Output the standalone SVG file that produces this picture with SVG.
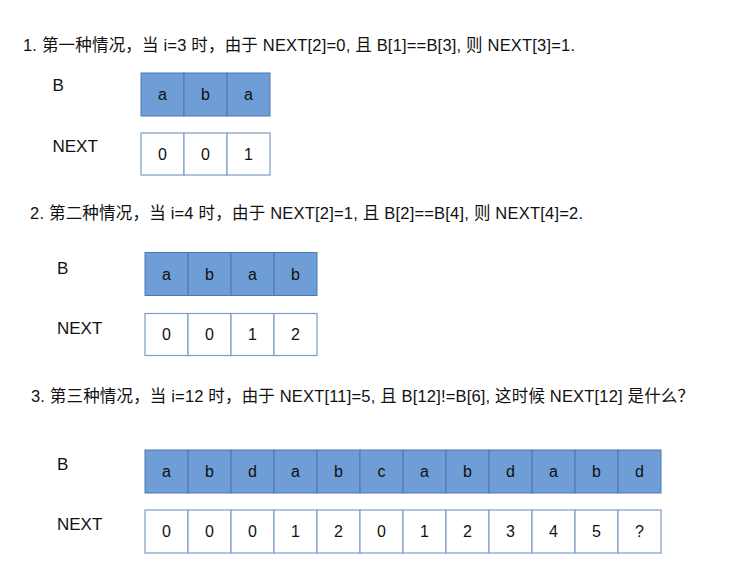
<svg xmlns="http://www.w3.org/2000/svg" width="750" height="579" viewBox="0 0 750 579">
<style>
text{font-family:"Liberation Sans","Noto Sans CJK SC",sans-serif;fill:#111;}
.h{font-size:16.5px;}
.h tspan.c{font-size:15.5px;}
.lbl{font-size:17px;}
.cv{font-size:16px;text-anchor:middle;}
.bc{fill:#6f9dd5;stroke:#4c79b2;stroke-width:1;}
.nc{fill:#fff;stroke:#7d9cc8;stroke-width:1.2;}
</style>
<rect width="750" height="579" fill="#fff"/>
<g id="case1">
<text class="h" x="23" y="50.5" textLength="552" lengthAdjust="spacing">1. 第一种情况，当 i=3 时，由于 NEXT[2]=0, 且 B[1]==B[3], 则 NEXT[3]=1.</text>
<g id="c1-B">
<text class="lbl" x="52.5" y="91">B</text>
<rect class="bc" x="141" y="73" width="43" height="43"/>
<rect class="bc" x="184" y="73" width="43" height="43"/>
<rect class="bc" x="227" y="73" width="43" height="43"/>
<text class="cv" x="162.5" y="100">a</text>
<text class="cv" x="205.5" y="100">b</text>
<text class="cv" x="248.5" y="100">a</text>
</g>
<g id="c1-NEXT">
<text class="lbl" x="52.5" y="152">NEXT</text>
<rect class="nc" x="141" y="133" width="43" height="42"/>
<rect class="nc" x="184" y="133" width="43" height="42"/>
<rect class="nc" x="227" y="133" width="43" height="42"/>
<text class="cv" x="162.5" y="159.5">0</text>
<text class="cv" x="205.5" y="159.5">0</text>
<text class="cv" x="248.5" y="159.5">1</text>
</g>
</g>
<g id="case2">
<text class="h" x="30" y="218.5" textLength="553" lengthAdjust="spacing">2. 第二种情况，当 i=4 时，由于 NEXT[2]=1, 且 B[2]==B[4], 则 NEXT[4]=2.</text>
<g id="c2-B">
<text class="lbl" x="57" y="274">B</text>
<rect class="bc" x="145" y="252.5" width="43" height="43"/>
<rect class="bc" x="188" y="252.5" width="43" height="43"/>
<rect class="bc" x="231" y="252.5" width="43" height="43"/>
<rect class="bc" x="274" y="252.5" width="43" height="43"/>
<text class="cv" x="166.5" y="279.5">a</text>
<text class="cv" x="209.5" y="279.5">b</text>
<text class="cv" x="252.5" y="279.5">a</text>
<text class="cv" x="295.5" y="279.5">b</text>
</g>
<g id="c2-NEXT">
<text class="lbl" x="57" y="333.5">NEXT</text>
<rect class="nc" x="145" y="313.5" width="43" height="42"/>
<rect class="nc" x="188" y="313.5" width="43" height="42"/>
<rect class="nc" x="231" y="313.5" width="43" height="42"/>
<rect class="nc" x="274" y="313.5" width="43" height="42"/>
<text class="cv" x="166.5" y="340">0</text>
<text class="cv" x="209.5" y="340">0</text>
<text class="cv" x="252.5" y="340">1</text>
<text class="cv" x="295.5" y="340">2</text>
</g>
</g>
<g id="case3">
<text class="h" x="31" y="402" textLength="663" lengthAdjust="spacing">3. 第三种情况，当 i=12 时，由于 NEXT[11]=5, 且 B[12]!=B[6], 这时候 NEXT[12] 是什么？</text>
<g id="c3-B">
<text class="lbl" x="57" y="470">B</text>
<rect class="bc" x="145" y="450" width="43" height="43"/>
<rect class="bc" x="188" y="450" width="43" height="43"/>
<rect class="bc" x="231" y="450" width="43" height="43"/>
<rect class="bc" x="274" y="450" width="43" height="43"/>
<rect class="bc" x="317" y="450" width="43" height="43"/>
<rect class="bc" x="360" y="450" width="43" height="43"/>
<rect class="bc" x="403" y="450" width="43" height="43"/>
<rect class="bc" x="446" y="450" width="43" height="43"/>
<rect class="bc" x="489" y="450" width="43" height="43"/>
<rect class="bc" x="532" y="450" width="43" height="43"/>
<rect class="bc" x="575" y="450" width="43" height="43"/>
<rect class="bc" x="618" y="450" width="43" height="43"/>
<text class="cv" x="166.5" y="477">a</text>
<text class="cv" x="209.5" y="477">b</text>
<text class="cv" x="252.5" y="477">d</text>
<text class="cv" x="295.5" y="477">a</text>
<text class="cv" x="338.5" y="477">b</text>
<text class="cv" x="381.5" y="477">c</text>
<text class="cv" x="424.5" y="477">a</text>
<text class="cv" x="467.5" y="477">b</text>
<text class="cv" x="510.5" y="477">d</text>
<text class="cv" x="553.5" y="477">a</text>
<text class="cv" x="596.5" y="477">b</text>
<text class="cv" x="639.5" y="477">d</text>
</g>
<g id="c3-NEXT">
<text class="lbl" x="57" y="530">NEXT</text>
<rect class="nc" x="145" y="510" width="43" height="43"/>
<rect class="nc" x="188" y="510" width="43" height="43"/>
<rect class="nc" x="231" y="510" width="43" height="43"/>
<rect class="nc" x="274" y="510" width="43" height="43"/>
<rect class="nc" x="317" y="510" width="43" height="43"/>
<rect class="nc" x="360" y="510" width="43" height="43"/>
<rect class="nc" x="403" y="510" width="43" height="43"/>
<rect class="nc" x="446" y="510" width="43" height="43"/>
<rect class="nc" x="489" y="510" width="43" height="43"/>
<rect class="nc" x="532" y="510" width="43" height="43"/>
<rect class="nc" x="575" y="510" width="43" height="43"/>
<rect class="nc" x="618" y="510" width="43" height="43"/>
<text class="cv" x="166.5" y="537">0</text>
<text class="cv" x="209.5" y="537">0</text>
<text class="cv" x="252.5" y="537">0</text>
<text class="cv" x="295.5" y="537">1</text>
<text class="cv" x="338.5" y="537">2</text>
<text class="cv" x="381.5" y="537">0</text>
<text class="cv" x="424.5" y="537">1</text>
<text class="cv" x="467.5" y="537">2</text>
<text class="cv" x="510.5" y="537">3</text>
<text class="cv" x="553.5" y="537">4</text>
<text class="cv" x="596.5" y="537">5</text>
<text class="cv" x="639.5" y="537">?</text>
</g>
</g>
</svg>
